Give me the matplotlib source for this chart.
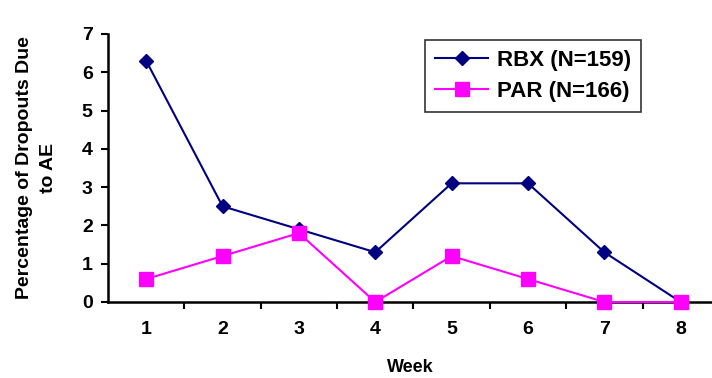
import matplotlib.pyplot as plt

plt.rcParams['font.family'] = ['Liberation Sans', 'DejaVu Sans']
plt.rcParams['font.weight'] = 'bold'

weeks = [1, 2, 3, 4, 5, 6, 7, 8]
rbx = [6.3, 2.5, 1.9, 1.3, 3.1, 3.1, 1.3, 0.0]
par = [0.6, 1.2, 1.8, 0.0, 1.2, 0.6, 0.0, 0.0]

fig = plt.figure(figsize=(7.12, 3.78), dpi=100)
ax = fig.add_axes([108/712, 1 - 302/378, 1 - 108/712, (302 - 34)/378])

ax.plot(weeks, rbx, color='#000080', marker='D', markersize=7.5, linewidth=1.5,
        label='RBX (N=159)', clip_on=False, zorder=3)
ax.plot(weeks, par, color='#FF00FF', marker='s', markersize=10, linewidth=1.5,
        label='PAR (N=166)', clip_on=False, zorder=3)

ax.set_ylim(0, 7)
ax.set_xlim(0.5, 8.41)
ax.set_yticks(range(0, 8))
ax.set_xticks(weeks)
ax.set_xticks([w + 0.5 for w in weeks[:-1]], minor=True)
ax.tick_params(axis='x', which='major', length=0, pad=14, labelsize=14)
ax.tick_params(axis='x', which='minor', length=5, width=1.5, direction='out')
ax.tick_params(axis='y', length=5, width=1.5, direction='out', labelsize=14, pad=6)
for lbl in ax.get_xticklabels() + ax.get_yticklabels():
    lbl.set_fontweight('bold')

for s in ['top', 'right']:
    ax.spines[s].set_visible(False)
for s in ['left', 'bottom']:
    ax.spines[s].set_linewidth(1.8)

ax.set_xlabel('Week', fontsize=13, fontweight='bold', labelpad=15)
ax.set_ylabel('Percentage of Dropouts Due\nto AE', fontsize=14,
              fontweight='bold', labelpad=18, linespacing=1.55)

leg = ax.legend(loc='upper left', bbox_to_anchor=((425 - 108)/604, 1 - (40 - 34)/268),
                borderaxespad=0,
                fontsize=16, frameon=True, fancybox=False, edgecolor='black',
                handlelength=2.4, borderpad=0.45, labelspacing=0.45, handletextpad=0.4)
leg.get_frame().set_linewidth(1.2)
for t in leg.get_texts():
    t.set_fontweight('bold')

fig.savefig('out.png', dpi=100)
